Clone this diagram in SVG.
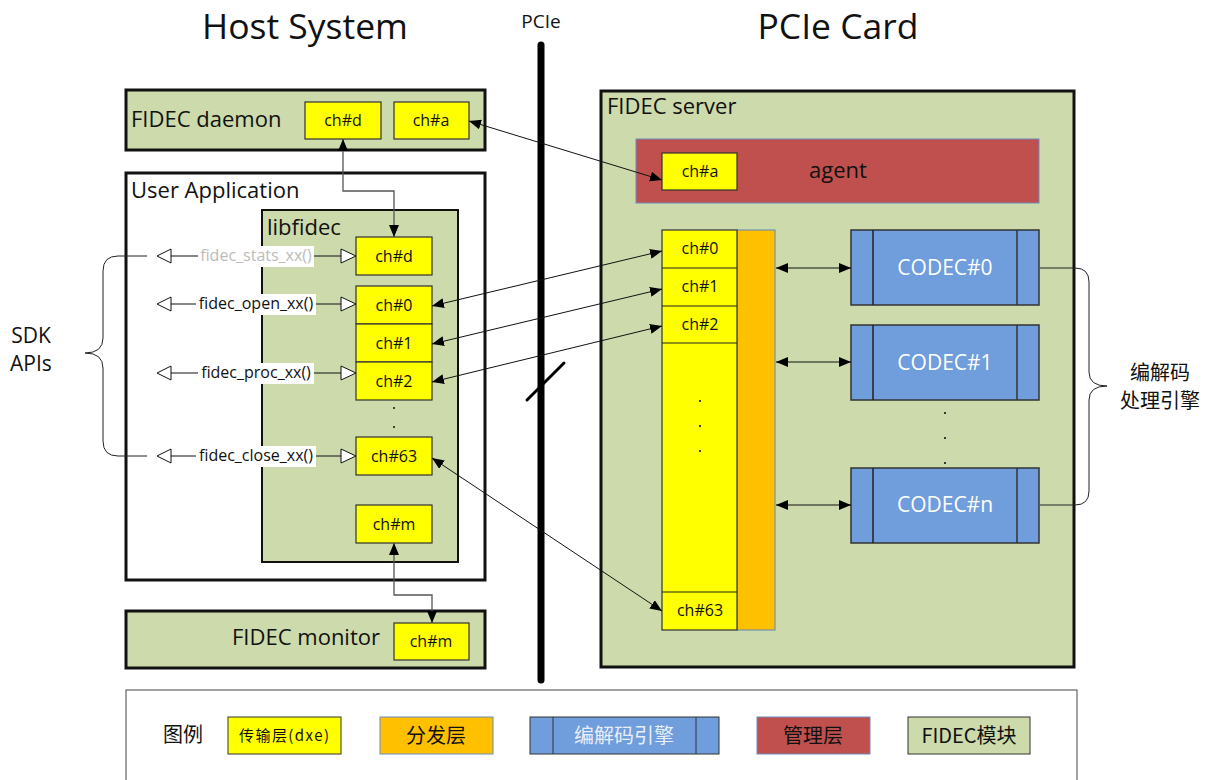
<svg xmlns="http://www.w3.org/2000/svg" width="1211" height="780" viewBox="0 0 1211 780">
<style>
text{font-family:"Open Sans","Noto Sans","Noto Sans CJK SC",sans-serif;fill:#111}
.cjk{font-family:"Noto Sans CJK SC","Noto Sans",sans-serif}
.mod{fill:#cddaab;stroke:#111;stroke-width:3}
.ch{fill:#ffff00;stroke:#333;stroke-width:1.2}
.cht{font-size:16px;text-anchor:middle}
.codec{fill:#709ddb;stroke:#333;stroke-width:1.5}
.codect{font-size:21px;text-anchor:middle;fill:#fff}
.big{font-size:22px}
.conn{fill:none;stroke:#111;stroke-width:1}
.api{font-size:16px;text-anchor:middle}
.tri{fill:#fff;stroke:#111;stroke-width:1}
.brace{fill:none;stroke:#222;stroke-width:1}
.dot{fill:#111}
</style>
<defs>
<marker id="ah" viewBox="0 0 12 10" refX="12" refY="5" markerWidth="12" markerHeight="10" markerUnits="userSpaceOnUse" orient="auto-start-reverse"><path d="M0,0 L12,5 L0,10 z" fill="#000"/></marker>
</defs>
<rect width="1211" height="780" fill="#fff"/>

<g id="titles">
<text x="305" y="39" font-size="35.5" text-anchor="middle">Host System</text>
<text x="838" y="39" font-size="35.5" text-anchor="middle">PCIe Card</text>
<text x="541" y="28" font-size="19" text-anchor="middle">PCIe</text>
</g>

<g id="pcie-bus">
<line x1="541" y1="45" x2="541" y2="680" stroke="#000" stroke-width="7" stroke-linecap="round"/>
<line x1="527" y1="400" x2="564" y2="363" stroke="#000" stroke-width="3" stroke-linecap="round"/>
</g>

<g id="fidec-daemon">
<rect class="mod" x="126" y="90" width="359" height="60"/>
<text class="big" x="131" y="127">FIDEC daemon</text>
<rect class="ch" x="305" y="102" width="76" height="37"/><text class="cht" x="343" y="126">ch#d</text>
<rect class="ch" x="394" y="102" width="75" height="37"/><text class="cht" x="431" y="126">ch#a</text>
</g>

<g id="user-application">
<rect x="126" y="173" width="359" height="407" fill="#fff" stroke="#111" stroke-width="3"/>
<text class="big" x="131" y="198">User Application</text>
</g>

<g id="libfidec">
<rect x="262" y="210" width="196" height="352" fill="#cddaab" stroke="#111" stroke-width="2"/>
<text class="big" x="267" y="235">libfidec</text>
<rect class="ch" x="356" y="237" width="76" height="38"/><text class="cht" x="394" y="262">ch#d</text>
<rect class="ch" x="356" y="286" width="76" height="38"/><text class="cht" x="394" y="311">ch#0</text>
<rect class="ch" x="356" y="324" width="76" height="38"/><text class="cht" x="394" y="349">ch#1</text>
<rect class="ch" x="356" y="362" width="76" height="38"/><text class="cht" x="394" y="387">ch#2</text>
<circle class="dot" cx="394" cy="408" r="1"/><circle class="dot" cx="394" cy="427" r="1"/>
<rect class="ch" x="356" y="437" width="76" height="38"/><text class="cht" x="394" y="462">ch#63</text>
<rect class="ch" x="356" y="505" width="76" height="38"/><text class="cht" x="394" y="530">ch#m</text>
</g>

<g id="fidec-monitor">
<rect class="mod" x="126" y="611" width="359" height="57"/>
<text class="big" x="380" y="645" text-anchor="end">FIDEC monitor</text>
<rect class="ch" x="394" y="623" width="75" height="37"/><text class="cht" x="431" y="647">ch#m</text>
</g>

<g id="sdk-apis">
<text x="31" y="343" font-size="21" text-anchor="middle">SDK</text>
<text x="31" y="371" font-size="21" text-anchor="middle">APIs</text>
</g>

<g id="fidec-server">
<rect class="mod" x="601" y="91" width="473" height="576"/>
<text class="big" x="607" y="114">FIDEC server</text>
</g>

<g id="agent">
<rect x="636" y="139" width="403" height="64" fill="#c0504d" stroke="#6a8cc0" stroke-width="1"/>
<text class="big" x="838" y="178" text-anchor="middle">agent</text>
<rect class="ch" x="662" y="153" width="75" height="37"/><text class="cht" x="700" y="177">ch#a</text>
</g>

<g id="dispatch">
<rect x="737" y="230" width="38" height="400" fill="#ffc000" stroke="#5a86c0" stroke-width="1"/>
</g>

<g id="transport-channels">
<rect class="ch" x="662" y="230" width="75" height="400"/>
<line x1="662" y1="268" x2="737" y2="268" stroke="#222" stroke-width="1.2"/>
<line x1="662" y1="306" x2="737" y2="306" stroke="#222" stroke-width="1.2"/>
<line x1="662" y1="343" x2="737" y2="343" stroke="#222" stroke-width="1.2"/>
<line x1="662" y1="592" x2="737" y2="592" stroke="#222" stroke-width="1.2"/>
<text class="cht" x="700" y="254">ch#0</text>
<text class="cht" x="700" y="292">ch#1</text>
<text class="cht" x="700" y="330">ch#2</text>
<text class="cht" x="700" y="616">ch#63</text>
<circle class="dot" cx="700" cy="401" r="1.1"/><circle class="dot" cx="700" cy="426" r="1.1"/><circle class="dot" cx="700" cy="451" r="1.1"/>
</g>

<g id="codec0">
<rect class="codec" x="851" y="230" width="188" height="75"/>
<line x1="873" y1="230" x2="873" y2="305" stroke="#222" stroke-width="1.5"/><line x1="1017" y1="230" x2="1017" y2="305" stroke="#333" stroke-width="1.5"/>
<text class="codect" x="945" y="275">CODEC#0</text>
</g>
<g id="codec1">
<rect class="codec" x="851" y="325" width="188" height="75"/>
<line x1="873" y1="325" x2="873" y2="400" stroke="#222" stroke-width="1.5"/><line x1="1017" y1="325" x2="1017" y2="400" stroke="#333" stroke-width="1.5"/>
<text class="codect" x="945" y="370">CODEC#1</text>
</g>
<circle class="dot" cx="945" cy="413" r="1.1"/><circle class="dot" cx="945" cy="438" r="1.1"/><circle class="dot" cx="945" cy="463" r="1.1"/>
<g id="codecn">
<rect class="codec" x="851" y="468" width="188" height="75"/>
<line x1="873" y1="468" x2="873" y2="543" stroke="#222" stroke-width="1.5"/><line x1="1017" y1="468" x2="1017" y2="543" stroke="#333" stroke-width="1.5"/>
<text class="codect" x="945" y="512">CODEC#n</text>
</g>

<g id="codec-label">
<text class="cjk" x="1160" y="380" font-size="20" text-anchor="middle">编解码</text>
<text class="cjk" x="1160" y="408" font-size="20" text-anchor="middle">处理引擎</text>
</g>

<g id="connectors">
<path d="M343,139 V191 H394 V237" fill="none" stroke="#555" stroke-width="1.3" marker-start="url(#ah)" marker-end="url(#ah)"/>
<path d="M394,543 V595 H432 V623" fill="none" stroke="#555" stroke-width="1.3" marker-start="url(#ah)" marker-end="url(#ah)"/>
<line class="conn" x1="469" y1="121" x2="662" y2="180" marker-start="url(#ah)" marker-end="url(#ah)"/>
<line class="conn" x1="432" y1="306" x2="662" y2="251" marker-start="url(#ah)" marker-end="url(#ah)"/>
<line class="conn" x1="432" y1="344" x2="662" y2="289" marker-start="url(#ah)" marker-end="url(#ah)"/>
<line class="conn" x1="432" y1="382" x2="662" y2="326" marker-start="url(#ah)" marker-end="url(#ah)"/>
<line class="conn" x1="432" y1="458" x2="662" y2="611" marker-start="url(#ah)" marker-end="url(#ah)"/>
<line class="conn" x1="776" y1="268" x2="851" y2="268" marker-start="url(#ah)" marker-end="url(#ah)"/>
<line class="conn" x1="776" y1="362" x2="851" y2="362" marker-start="url(#ah)" marker-end="url(#ah)"/>
<line class="conn" x1="776" y1="505" x2="851" y2="505" marker-start="url(#ah)" marker-end="url(#ah)"/>

<line class="conn" x1="171" y1="256" x2="341" y2="256"/>
<polygon class="tri" points="157,256 171,249 171,263"/><polygon class="tri" points="356,256 341,249 341,263"/>
<rect x="198" y="246" width="116" height="21" fill="#fff"/>
<text class="api" x="256" y="261" style="fill:#bbb">fidec_stats_xx()</text>

<line class="conn" x1="171" y1="304" x2="341" y2="304"/>
<polygon class="tri" points="157,304 171,297 171,311"/><polygon class="tri" points="356,304 341,297 341,311"/>
<rect x="196" y="294" width="120" height="21" fill="#fff"/>
<text class="api" x="256" y="309">fidec_open_xx()</text>

<line class="conn" x1="171" y1="373" x2="341" y2="373"/>
<polygon class="tri" points="157,373 171,366 171,380"/><polygon class="tri" points="356,373 341,366 341,380"/>
<rect x="198" y="363" width="116" height="21" fill="#fff"/>
<text class="api" x="256" y="378">fidec_proc_xx()</text>

<line class="conn" x1="171" y1="456" x2="341" y2="456"/>
<polygon class="tri" points="157,456 171,449 171,463"/><polygon class="tri" points="356,456 341,449 341,463"/>
<rect x="196" y="446" width="120" height="21" fill="#fff"/>
<text class="api" x="256" y="461">fidec_close_xx()</text>

<path class="brace" d="M147,256 H118 Q103,256 103,271 V338 Q103,353 85,353 Q103,353 103,368 V441 Q103,456 118,456 H147"/>
<path class="brace" d="M1040,268 H1075 Q1089,268 1089,282 V372 Q1089,386 1107,386 Q1089,386 1089,400 V491 Q1089,505 1075,505 H1040"/>
</g>

<g id="legend">
<rect x="126" y="690" width="951" height="110" fill="#fff" stroke="#444" stroke-width="1"/>
<text class="cjk" x="183" y="742" font-size="20" text-anchor="middle">图例</text>
<rect x="228" y="717" width="113" height="37" fill="#ffff00" stroke="#333" stroke-width="1"/>
<text class="cjk" x="284" y="741" font-size="15" text-anchor="middle" textLength="90">传输层(dxe)</text>
<rect x="380" y="717" width="113" height="37" fill="#ffc000" stroke="#6a8cc0" stroke-width="1"/>
<text class="cjk" x="436" y="743" font-size="20" text-anchor="middle">分发层</text>
<rect x="530" y="717" width="189" height="37" fill="#709ddb" stroke="#333" stroke-width="1"/>
<line x1="553" y1="717" x2="553" y2="754" stroke="#333"/><line x1="696" y1="717" x2="696" y2="754" stroke="#333"/>
<text class="cjk" x="624" y="743" font-size="20" text-anchor="middle" style="fill:#e8eef8">编解码引擎</text>
<rect x="757" y="717" width="113" height="37" fill="#c0504d" stroke="#6a8cc0" stroke-width="1"/>
<text class="cjk" x="813" y="743" font-size="20" text-anchor="middle">管理层</text>
<rect x="908" y="717" width="122" height="37" fill="#cddaab" stroke="#333" stroke-width="1"/>
<text class="cjk" x="969" y="743" font-size="20" text-anchor="middle">FIDEC模块</text>
</g>
</svg>
